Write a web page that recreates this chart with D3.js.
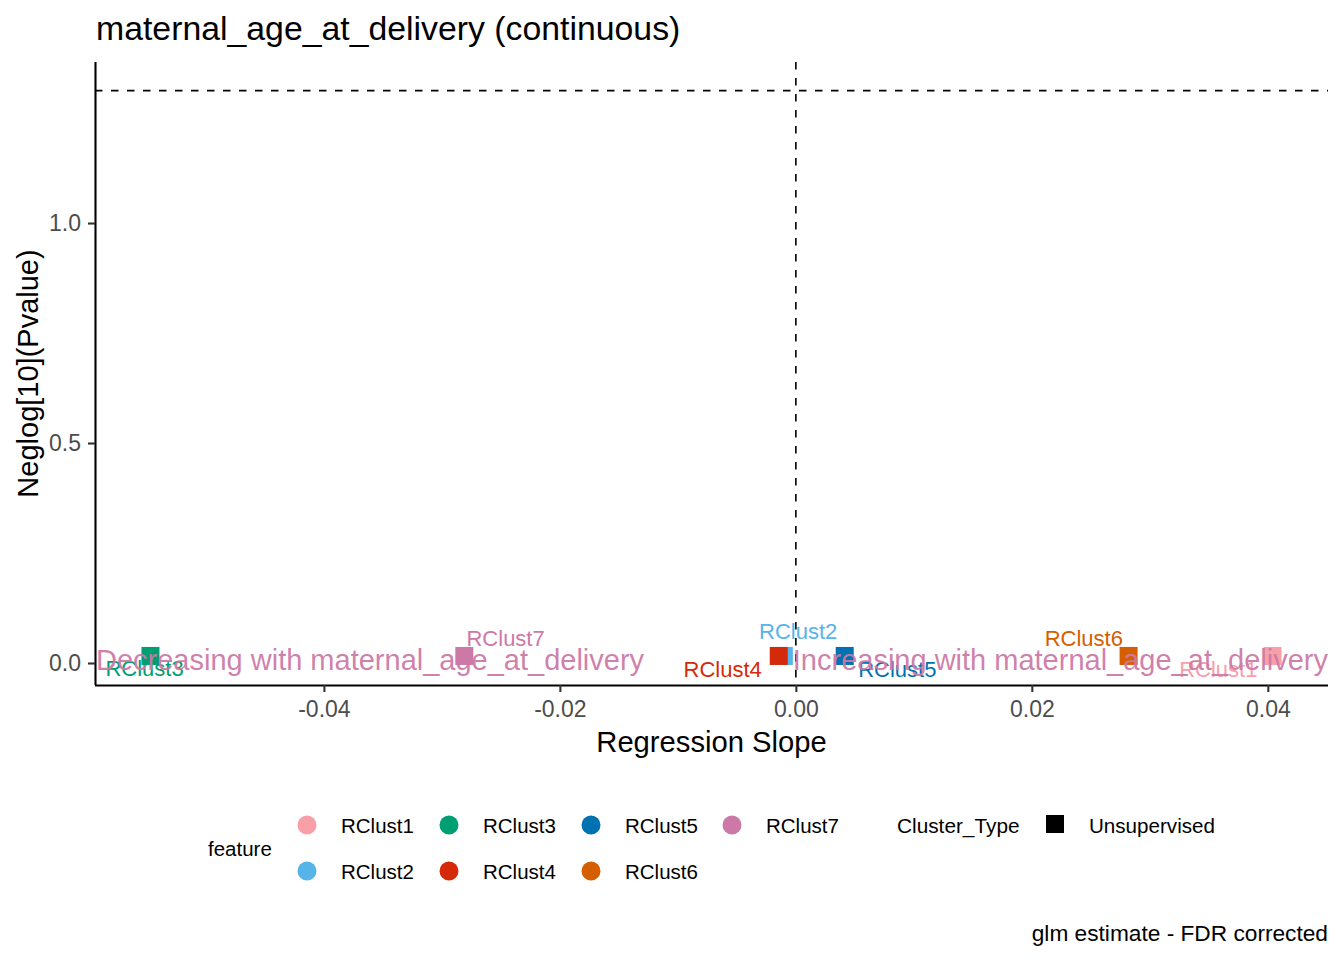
<!DOCTYPE html>
<html>
<head>
<meta charset="utf-8">
<script src="https://cdn.jsdelivr.net/npm/d3@7"></script>
<style>
  body { margin: 0; background: #fff; }
  svg { font-family: "Liberation Sans", Arial, sans-serif; }
</style>
</head>
<body>
<svg id="chart" width="1344" height="960"></svg>
<script>
// ---- data ----
const features = ["RClust1", "RClust2", "RClust3", "RClust4", "RClust5", "RClust6", "RClust7"];
const slopes   = [0.0404, -0.00102, -0.0547, -0.00145, 0.00414, 0.0282, -0.0281];
const negLogP  = [0.016, 0.016, 0.016, 0.016, 0.016, 0.016, 0.016];
// repelled label positions (data units)
const labelX   = [0.0358, 0.0002, -0.0552, -0.0062, 0.0086, 0.0244, -0.0246];
const labelY   = [-0.0136, 0.0727, -0.0114, -0.0136, -0.0136, 0.0568, 0.0568];
const colors   = ["#F99FA8", "#56B4E9", "#009E73", "#D42A0A", "#0072B2", "#D55E00", "#CC79A7"];
const xTicks   = [-0.04, -0.02, 0.00, 0.02, 0.04];
const yTicks   = [0.0, 0.5, 1.0];
const sigLine  = -Math.log10(0.05);
const xDomain  = [-0.0594, 0.0451];
const yDomain  = [-0.05, 1.366];

const svg = d3.select("#chart");
const M = {left: 95, right: 1328, top: 62, bottom: 685};

const x = d3.scaleLinear().domain(xDomain).range([M.left, M.right]);
const y = d3.scaleLinear().domain(yDomain).range([M.bottom, M.top]);

// title
svg.append("text").attr("x", 96).attr("y", 40)
  .attr("font-size", 33.8).attr("fill", "#000")
  .text("maternal_age_at_delivery (continuous)");

// reference lines
svg.append("line")
  .attr("x1", M.left).attr("x2", M.right)
  .attr("y1", y(sigLine)).attr("y2", y(sigLine))
  .attr("stroke", "#000").attr("stroke-width", 1.6).attr("stroke-dasharray", "7.5,8.5");
svg.append("line")
  .attr("x1", x(0)).attr("x2", x(0))
  .attr("y1", M.top).attr("y2", M.bottom)
  .attr("stroke", "#000").attr("stroke-width", 1.6).attr("stroke-dasharray", "7.5,8.5");

// axes
const xAxis = svg.append("g").attr("transform", `translate(0,${M.bottom})`)
  .call(d3.axisBottom(x).tickValues(xTicks).tickSize(7).tickSizeOuter(0).tickPadding(5)
    .tickFormat(d => d3.format(".2f")(d).replace("\u2212", "-")));
xAxis.select(".domain").attr("stroke", "#000").attr("stroke-width", 2.1);
xAxis.selectAll(".tick line").attr("stroke", "#333").attr("stroke-width", 2.1);
xAxis.selectAll(".tick text").attr("font-size", 23).attr("fill", "#4D4D4D")
  .attr("font-family", "Liberation Sans, Arial, sans-serif").attr("dy", "0.87em");

const yAxis = svg.append("g").attr("transform", `translate(${M.left},0)`)
  .call(d3.axisLeft(y).tickValues(yTicks).tickSize(7).tickSizeOuter(0).tickPadding(7)
    .tickFormat(d3.format(".1f")));
yAxis.select(".domain").attr("stroke", "#000").attr("stroke-width", 2.1);
yAxis.selectAll(".tick line").attr("stroke", "#333").attr("stroke-width", 2.1);
yAxis.selectAll(".tick text").attr("font-size", 23).attr("fill", "#4D4D4D")
  .attr("font-family", "Liberation Sans, Arial, sans-serif");
// extend domains to the panel
xAxis.select(".domain").attr("d", `M${M.left},0.5H${M.right}`);
yAxis.select(".domain").attr("d", `M0.5,${M.top}V${M.bottom}`);

// axis titles
svg.append("text").attr("x", (M.left + M.right) / 2).attr("y", 752)
  .attr("text-anchor", "middle").attr("font-size", 29.2).text("Regression Slope");
svg.append("text")
  .attr("transform", `translate(38,${(M.top + M.bottom) / 2}) rotate(-90)`)
  .attr("text-anchor", "middle").attr("font-size", 29).text("Neglog[10](Pvalue)");

// points (squares)
const data = features.map((f, i) => ({f, sx: slopes[i], sy: negLogP[i], lx: labelX[i], ly: labelY[i], c: colors[i]}));
const S = 18;
svg.append("g").selectAll("rect").data(data).join("rect")
  .attr("x", d => x(d.sx) - S / 2).attr("y", d => y(d.sy) - S / 2)
  .attr("width", S).attr("height", S).attr("fill", d => d.c);

// labels
svg.append("g").selectAll("text").data(data).join("text")
  .attr("x", d => x(d.lx)).attr("y", d => y(d.ly) + 8)
  .attr("text-anchor", "middle").attr("font-size", 22).attr("fill", d => d.c)
  .text(d => d.f);

// direction annotations
svg.append("text").attr("x", M.left + 1).attr("y", y(-0.016))
  .attr("font-size", 29).attr("fill", "#CC79A7").attr("fill-opacity", 0.95)
  .text("Decreasing with maternal_age_at_delivery");
svg.append("text").attr("x", M.right).attr("y", y(-0.016))
  .attr("text-anchor", "end")
  .attr("font-size", 29).attr("fill", "#CC79A7").attr("fill-opacity", 0.95)
  .text("Increasing with maternal_age_at_delivery");

// legend
const lg = svg.append("g");
lg.append("text").attr("x", 208).attr("y", 856).attr("font-size", 20.5).text("feature");
const colX = [307, 449, 591, 732];
const rowY = [825, 871];
data.forEach((d, i) => {
  const col = Math.floor(i / 2), row = i % 2;
  lg.append("circle").attr("cx", colX[col]).attr("cy", rowY[row]).attr("r", 9.5).attr("fill", d.c);
  lg.append("text").attr("x", colX[col] + 34).attr("y", rowY[row] + 7.5)
    .attr("font-size", 20.5).text(d.f);
});
lg.append("text").attr("x", 897).attr("y", 832.5).attr("font-size", 20.8).text("Cluster_Type");
lg.append("rect").attr("x", 1046).attr("y", 815).attr("width", 18).attr("height", 18).attr("fill", "#000");
lg.append("text").attr("x", 1089).attr("y", 832.5).attr("font-size", 20.6).text("Unsupervised");

// caption
svg.append("text").attr("x", 1328).attr("y", 941).attr("text-anchor", "end")
  .attr("font-size", 22.7).text("glm estimate - FDR corrected");
</script>
</body>
</html>
